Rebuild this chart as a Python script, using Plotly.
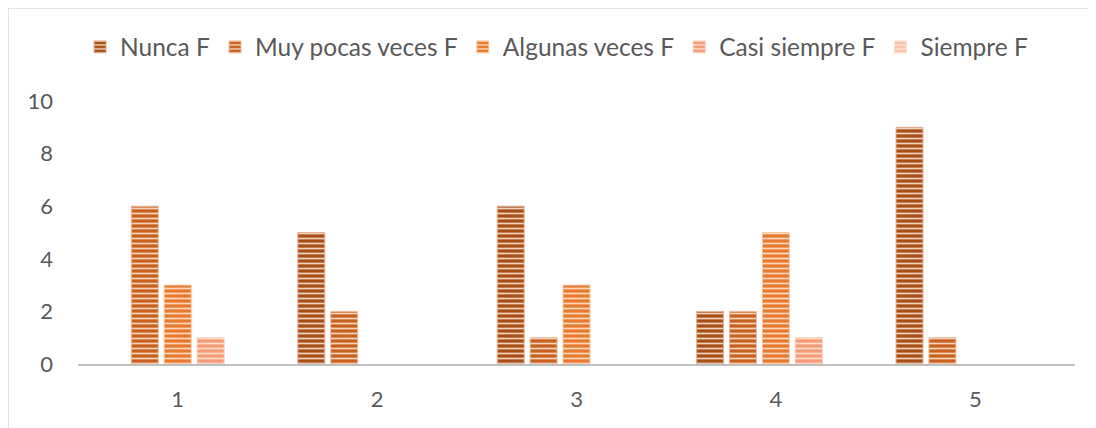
import plotly.graph_objects as go

categories = ["1", "2", "3", "4", "5"]
series_names = ["Nunca F", "Muy pocas veces F", "Algunas veces F", "Casi siempre F", "Siempre F"]
nunca = [0, 5, 6, 2, 9]
muy_pocas = [6, 2, 1, 2, 1]
algunas = [3, 0, 3, 5, 0]
casi_siempre = [1, 0, 0, 1, 0]
siempre = [0, 0, 0, 0, 0]
y_ticks = [0, 2, 4, 6, 8, 10]

series_values = [nunca, muy_pocas, algunas, casi_siempre, siempre]
colors = ["#A84E17", "#C9601E", "#E8792C", "#F39A76", "#F7C2AA"]
edge_colors = ["#E3B39A", "#EDBC9E", "#F6C8A6", "#F9CDBB", "#FBE0D3"]

fig = go.Figure()
for name, vals, c, e in zip(series_names, series_values, colors, edge_colors):
    fig.add_trace(go.Bar(
        x=categories, y=[v if v else None for v in vals], name=name,
        marker=dict(
            color=c,
            line=dict(color=e, width=1),
            pattern=dict(shape="-", fgcolor="rgba(255,232,215,0.85)", bgcolor=c,
                         size=5, solidity=0.35, fillmode="replace"),
        ),
    ))

# page is offset by the 8px body margin
W, H = 1088, 420
L, R, T, B = 70, 21, 93, 64
pw, ph = W - L - R, H - T - B

def px_x(p):
    return (p - L) / pw

def px_y(p):
    return (H - B - p) / ph

border = "#D9D9D9"
shapes = [
    dict(type="line", xref="paper", yref="paper", x0=px_x(0), x1=px_x(W + 5), y0=px_y(0), y1=px_y(0),
         line=dict(color=border, width=1.5)),
    dict(type="line", xref="paper", yref="paper", x0=px_x(0), x1=px_x(0), y0=px_y(0), y1=px_y(H + 5),
         line=dict(color=border, width=1.5)),
]

fig.update_layout(
    width=W, height=H,
    margin=dict(l=L, r=R, t=T, b=B, autoexpand=False),
    paper_bgcolor="white", plot_bgcolor="white",
    barmode="group", bargap=0.175, bargroupgap=0.18,
    font=dict(family="Lato, 'Liberation Sans', sans-serif", size=22, color="#595959"),
    legend=dict(orientation="h", x=0.48, xanchor="center", y=px_y(39), yanchor="middle",
                font=dict(size=24.5, color="#595959"), itemwidth=30, traceorder="normal"),
    shapes=shapes,
    xaxis=dict(showline=True, linecolor="#BFBFBF", linewidth=2, ticks="", showgrid=False,
               zeroline=False, ticklabelstandoff=15, tickfont=dict(size=22, color="#595959")),
    yaxis=dict(range=[0, 10], tickvals=y_ticks, showgrid=False, zeroline=False, showline=False,
               ticks="", ticklabelstandoff=24, tickfont=dict(size=22, color="#595959")),
)

fig.write_html("out.html")
